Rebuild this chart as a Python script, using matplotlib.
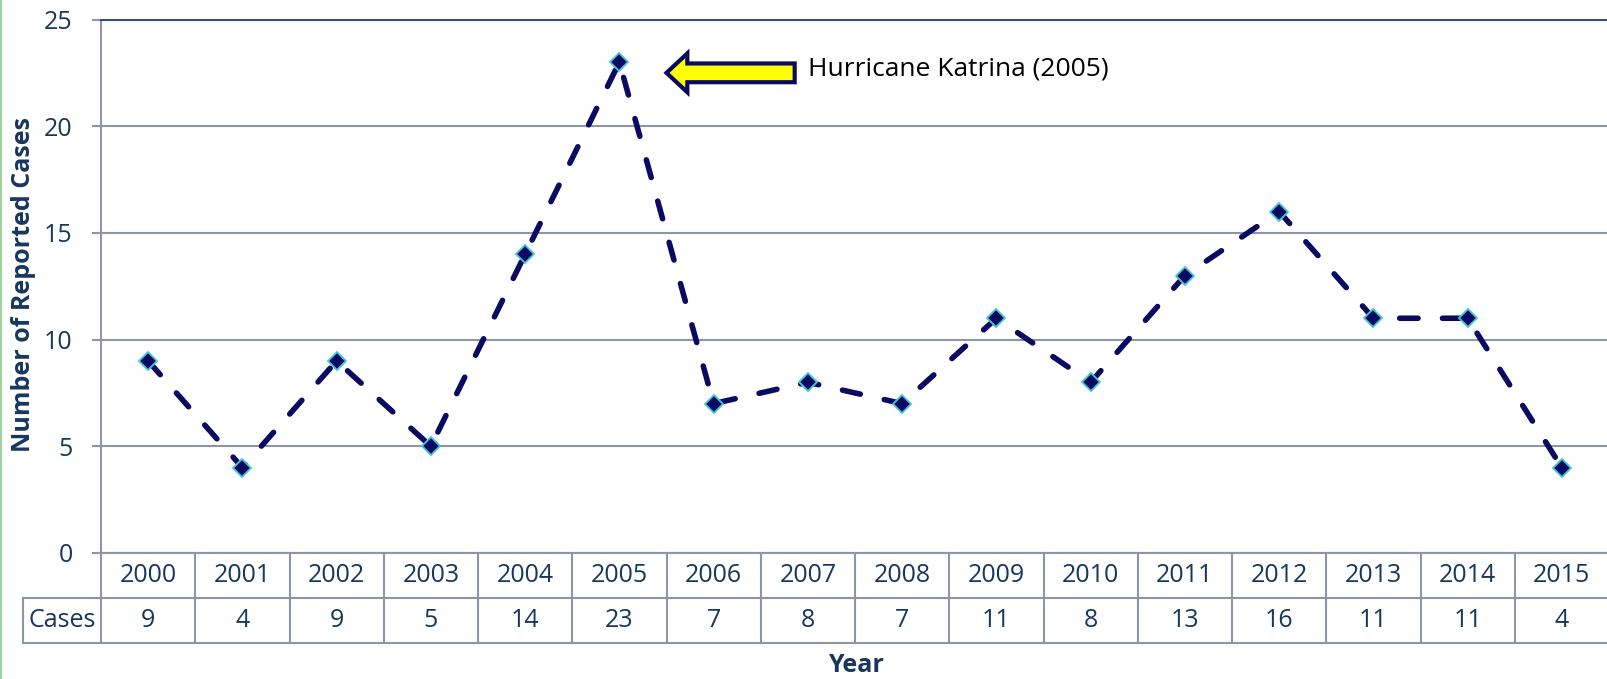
import matplotlib.pyplot as plt
import matplotlib.transforms as mtransforms
from matplotlib.lines import Line2D

plt.rcParams["font.family"] = ["Open Sans", "DejaVu Sans"]

YEARS = ["2000", "2001", "2002", "2003", "2004", "2005", "2006", "2007",
         "2008", "2009", "2010", "2011", "2012", "2013", "2014", "2015"]
CASES = [9, 4, 9, 5, 14, 23, 7, 8, 7, 11, 8, 13, 16, 11, 11, 4]
Y_TICKS = [0, 5, 10, 15, 20, 25]
NOTE = "Hurricane Katrina (2005)"
NOTE_INDEX = 5

TEXT_COLOR = "#17375E"
LINE_COLOR = "#0A0A62"
EDGE_COLOR = "#40C8D8"
GRID_COLOR = "#8E95A8"
FS = 18

W, H = 1607, 679
fig = plt.figure(figsize=(W / 100, H / 100), dpi=100)

# axes placed in pixels: left 101, top 19.5, bottom 553, runs past right edge
left, right, top, bottom = 101, 1609, 19.5, 553
ax = fig.add_axes([left / W, 1 - bottom / H, (right - left) / W, (bottom - top) / H])

x = list(range(len(YEARS)))
ax.plot(x, CASES, color=LINE_COLOR, lw=4, linestyle=(0, (3.3, 4.4)),
        dash_capstyle="round", zorder=3)
ax.plot(x, CASES, linestyle="none", marker="D", markersize=9.5,
        markerfacecolor=LINE_COLOR, markeredgecolor=EDGE_COLOR,
        markeredgewidth=1.3, zorder=4)

ax.set_xlim(-0.5, len(YEARS) - 0.5)
ax.set_ylim(0, 25)
ax.set_yticks(Y_TICKS)
ax.set_xticks([])
ax.tick_params(axis="y", length=6.5, width=1.5, color=GRID_COLOR, pad=14,
               labelsize=FS, labelcolor=TEXT_COLOR)
ax.grid(axis="y", color=GRID_COLOR, lw=1.5)
ax.set_axisbelow(True)
for s in ["left", "bottom"]:
    ax.spines[s].set_color(GRID_COLOR)
    ax.spines[s].set_linewidth(1.5)
ax.spines["top"].set_color("#33507A")
ax.spines["top"].set_linewidth(1.5)
ax.spines["right"].set_visible(False)

# data table under the axis
trans = mtransforms.blended_transform_factory(ax.transData, ax.transAxes)
row_h = 45 / (bottom - top)
label_left = (23 - left) / ((right - left) / len(YEARS)) - 0.5
tbl = dict(color=GRID_COLOR, lw=1.5, transform=trans, clip_on=False)
for i in range(len(YEARS) + 1):
    ax.add_line(Line2D([i - 0.5, i - 0.5], [0, -2 * row_h], **tbl))
ax.add_line(Line2D([label_left, label_left], [-row_h, -2 * row_h], **tbl))
for yy in [-row_h, -2 * row_h]:
    ax.add_line(Line2D([label_left, len(YEARS)], [yy, yy], **tbl))
for i, (yr, c) in enumerate(zip(YEARS, CASES)):
    ax.text(i, -0.5 * row_h, yr, transform=trans, ha="center", va="center",
            fontsize=FS, color=TEXT_COLOR)
    ax.text(i, -1.5 * row_h, str(c), transform=trans, ha="center", va="center",
            fontsize=FS, color=TEXT_COLOR)
ax.text((label_left - 0.5) / 2, -1.5 * row_h, "Cases", transform=trans,
        ha="center", va="center", fontsize=FS, color=TEXT_COLOR)

# axis titles
fig.text(24 / W, 1 - 284 / H, "Number of Reported Cases", rotation=90,
         ha="center", va="center", fontsize=18, fontweight="bold", color=TEXT_COLOR)
fig.text(856 / W, 1 - 665 / H, "Year", ha="center", va="center",
         fontsize=18, fontweight="bold", color=TEXT_COLOR)

# annotation arrow for the peak
peak = CASES[NOTE_INDEX]
ax.annotate("", xy=(NOTE_INDEX + 0.5, peak - 0.5), xytext=(NOTE_INDEX + 1.86, peak - 0.5),
            arrowprops=dict(arrowstyle="simple,head_length=15,head_width=28,tail_width=13.5",
                            mutation_scale=1, shrinkA=0, shrinkB=0,
                            fc="#FFFF00", ec=LINE_COLOR, lw=3, joinstyle="miter"))
ax.text(NOTE_INDEX + 2.0, peak - 0.3, NOTE, ha="left", va="center",
        fontsize=19, color="black")

# green border on the left
fig.add_artist(Line2D([1 / W, 1 / W], [0, 1], color="#9CD69C", lw=1.5,
                      transform=fig.transFigure))

fig.savefig("out.png", dpi=100)
